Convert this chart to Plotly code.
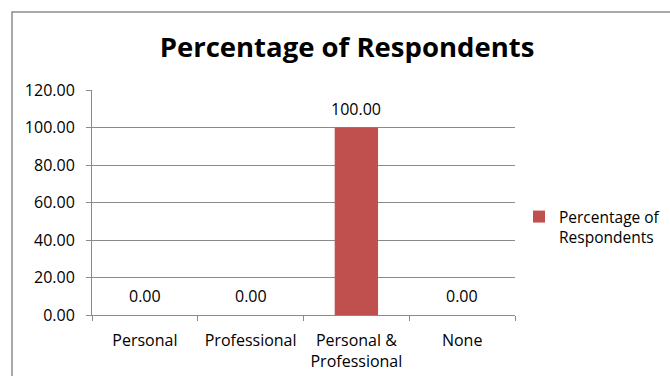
import plotly.graph_objects as go

categories = ["Personal", "Professional", "Personal &<br>Professional", "None"]
percentages = [0.00, 0.00, 100.00, 0.00]
series_name = "Percentage of Respondents"
y_ticks = [0, 20, 40, 60, 80, 100, 120]

FONT = "Open Sans"
BAR_COLOR = "#C0504D"
GRID = "#8a8a8a"
FS = 16

W, H = 670, 376
L, R, T, B = 92, 155, 90, 61
pw, ph = W - L - R, H - T - B

fig = go.Figure()
fig.add_trace(go.Bar(
    x=categories, y=percentages, name="Percentage of<br>Respondents",
    marker=dict(color=BAR_COLOR, line=dict(width=0)),
    width=0.41, showlegend=True,
))

# value labels above each bar
for c, v in zip(categories, percentages):
    fig.add_annotation(x=c, y=v, text=f"{v:.2f}", showarrow=False,
                       yanchor="middle", yshift=19,
                       font=dict(family=FONT, size=FS, color="#000"))

# outer chart frame
def px_x(x):
    return (x - L) / pw

def px_y(y):
    return (H - B - y) / ph

fig.add_shape(type="rect", xref="paper", yref="paper",
              x0=px_x(12), x1=px_x(690), y0=px_y(12), y1=px_y(400),
              line=dict(color="#8c8c8c", width=1.5), fillcolor="rgba(0,0,0,0)",
              layer="below")

fig.update_layout(
    width=W, height=H,
    margin=dict(l=L, r=R, t=T, b=B, autoexpand=False),
    paper_bgcolor="white", plot_bgcolor="white",
    title=dict(text="<b>Percentage of Respondents</b>", x=px_x(347), xanchor="center",
               xref="paper", y=1 - 47 / H, yanchor="middle",
               font=dict(family=FONT, size=27.5, color="#000")),
    font=dict(family=FONT, size=FS, color="#000"),
    legend=dict(xref="container", yref="container",
                x=519 / W, y=1 - 200 / H, xanchor="left", yanchor="top",
                font=dict(family=FONT, size=15.5, color="#000"),
                itemwidth=30, tracegroupgap=0, valign="top"),
    showlegend=True,
)
fig.update_xaxes(
    showline=True, linecolor=GRID, linewidth=1,
    ticks="outside", tickson="boundaries", ticklen=5, tickcolor=GRID,
    showgrid=False, tickfont=dict(family=FONT, size=FS, color="#000"),
    ticklabelstandoff=11,
)
fig.update_yaxes(
    range=[0, 120], tickvals=y_ticks, tickformat=".2f",
    showline=True, linecolor=GRID, linewidth=1,
    ticks="outside", ticklen=5, tickcolor=GRID,
    showgrid=True, gridcolor=GRID, gridwidth=1, zeroline=False,
    tickfont=dict(family=FONT, size=FS, color="#000"),
    ticklabelstandoff=8,
)

fig.write_html("out.html")
